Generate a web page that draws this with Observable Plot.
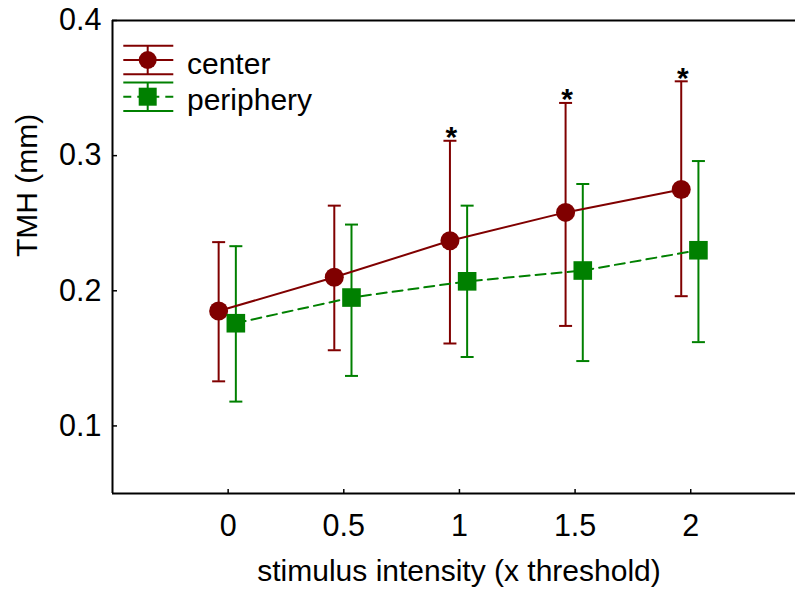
<!DOCTYPE html>
<html>
<head>
<meta charset="utf-8">
<script src="https://cdn.jsdelivr.net/npm/d3@7"></script>
<script src="https://cdn.jsdelivr.net/npm/@observablehq/plot@0.6"></script>
<style>
  html, body { margin: 0; padding: 0; background: #fff; }
  #chart { width: 795px; height: 592px; }
  svg { font-family: "Liberation Sans", Arial, sans-serif; }
</style>
</head>
<body>
<div id="chart"></div>
<script>
// ---- data ----
const intensity = [0, 0.5, 1, 1.5, 2];
const centerMean = [0.185, 0.210, 0.237, 0.258, 0.275];
const centerLow  = [0.133, 0.156, 0.161, 0.174, 0.196];
const centerHigh = [0.236, 0.263, 0.311, 0.339, 0.355];
const periphMean = [0.176, 0.195, 0.207, 0.215, 0.230];
const periphLow  = [0.118, 0.137, 0.151, 0.148, 0.162];
const periphHigh = [0.233, 0.249, 0.263, 0.279, 0.296];
const significance = ["", "", "*", "*", "*"];
const seriesNames = ["center", "periphery"];
const xTicks = [0, 0.5, 1, 1.5, 2];
const yTicks = [0.1, 0.2, 0.3, 0.4];
const xLabel = "stimulus intensity (x threshold)";
const yLabel = "TMH (mm)";

// ---- build ----
const RED = "#800000";
const GREEN = "#008000";
const center = intensity.map((x, i) => ({x, mean: centerMean[i], lo: centerLow[i], hi: centerHigh[i], sig: significance[i]}));
const periph = intensity.map((x, i) => ({x, mean: periphMean[i], lo: periphLow[i], hi: periphHigh[i]}));

const capSymbol = {
  draw(context, size) {
    const w = Math.sqrt(size / Math.PI);
    context.moveTo(-w, 0);
    context.lineTo(w, 0);
  }
};

const dxC = -9.5, dxP = 7.7;

const errorMarks = (data, color, dx) => [
  Plot.ruleX(data, {x: "x", y1: "lo", y2: "hi", stroke: color, strokeWidth: 2, dx}),
  Plot.dot(data, {x: "x", y: "lo", symbol: capSymbol, r: 6.5, stroke: color, strokeWidth: 2, fill: "none", dx}),
  Plot.dot(data, {x: "x", y: "hi", symbol: capSymbol, r: 6.5, stroke: color, strokeWidth: 2, fill: "none", dx})
];

const chart = Plot.plot({
  width: 795,
  height: 592,
  marginLeft: 112,
  marginRight: 0,
  marginTop: 20,
  marginBottom: 99,
  style: {fontFamily: '"Liberation Sans", Arial, sans-serif', fontSize: "30px", color: "#000", background: "#fff"},
  x: {domain: [-0.5, 2.453], ticks: xTicks, tickFormat: d => String(d), label: null},
  y: {domain: [0.05, 0.4], ticks: yTicks, tickFormat: d3.format(".1f"), label: null},
  marks: [
    Plot.axisX({ticks: xTicks, tickSize: -4, tickPadding: 25, fontSize: 30.5, strokeWidth: 1.5, tickFormat: d => String(d), label: null}),
    Plot.axisY({ticks: yTicks, tickSize: -5, tickPadding: 16, fontSize: 30.5, strokeWidth: 1.5, tickFormat: d3.format(".1f"), label: null}),
    Plot.ruleY([0.4], {stroke: "#000", strokeWidth: 2}),
    Plot.ruleY([0.05], {stroke: "#000", strokeWidth: 2}),
    Plot.ruleX([-0.5], {stroke: "#000", strokeWidth: 2}),
    ...errorMarks(center, RED, dxC),
    ...errorMarks(periph, GREEN, dxP),
    Plot.line(center, {x: "x", y: "mean", stroke: RED, strokeWidth: 2, dx: dxC}),
    Plot.line(periph, {x: "x", y: "mean", stroke: GREEN, strokeWidth: 2, strokeDasharray: "10,6", dx: dxP}),
    Plot.dot(center, {x: "x", y: "mean", r: 9.5, fill: RED, stroke: "none", dx: dxC}),
    Plot.dot(periph, {x: "x", y: "mean", r: 10.5, symbol: "square", fill: GREEN, stroke: "none", dx: dxP}),
    Plot.text(center.filter(d => d.sig), {x: "x", y: "hi", text: "sig", fontSize: 30, fontWeight: "bold", lineAnchor: "bottom", dy: 6.5, dx: dxC + 1.5, fill: "#000"}),
    Plot.text([xLabel], {frameAnchor: "bottom", text: d => d, fontSize: 30, lineAnchor: "top", dy: 66, dx: 5, fill: "#000"}),
    Plot.text([yLabel], {frameAnchor: "left", text: d => d, fontSize: 30, rotate: -90, lineAnchor: "middle", dx: -85, fill: "#000"})
  ]
});

// ---- legend (inside plot, top-left) ----
const svg = d3.select(chart);
const lg = svg.append("g").attr("class", "legend").attr("text-anchor", "start");
const rows = [
  {name: seriesNames[0], color: RED, cy: 60, dash: null, shape: "circle"},
  {name: seriesNames[1], color: GREEN, cy: 96.7, dash: "8,6", shape: "square"}
];
const lx1 = 123.3, lx2 = 173.3, lcx = 147.7, half = 14.3;
rows.forEach(r => {
  const g = lg.append("g");
  g.append("line").attr("x1", lx1).attr("x2", lx2).attr("y1", r.cy - half).attr("y2", r.cy - half).attr("stroke", r.color).attr("stroke-width", 2);
  g.append("line").attr("x1", lx1).attr("x2", lx2).attr("y1", r.cy + half).attr("y2", r.cy + half).attr("stroke", r.color).attr("stroke-width", 2);
  g.append("line").attr("x1", lx1).attr("x2", lx2).attr("y1", r.cy).attr("y2", r.cy).attr("stroke", r.color).attr("stroke-width", 2).attr("stroke-dasharray", r.dash);
  g.append("line").attr("x1", lcx).attr("x2", lcx).attr("y1", r.cy - half).attr("y2", r.cy + half).attr("stroke", r.color).attr("stroke-width", 2);
  if (r.shape === "circle") {
    g.append("circle").attr("cx", lcx).attr("cy", r.cy).attr("r", 9).attr("fill", r.color);
  } else {
    g.append("rect").attr("x", lcx - 9).attr("y", r.cy - 9).attr("width", 18).attr("height", 18).attr("fill", r.color);
  }
  g.append("text").attr("x", 187).attr("y", r.cy + 13.5).attr("font-size", 30).attr("text-anchor", "start").attr("fill", "#000").text(r.name);
});

document.getElementById("chart").appendChild(chart);
</script>
</body>
</html>
